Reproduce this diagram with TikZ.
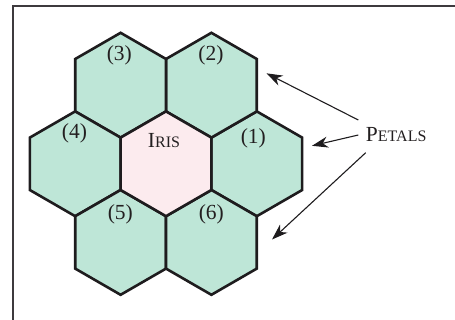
\documentclass[tikz,border=0pt]{standalone}
\usepackage{fontspec}
\setmainfont{Liberation Serif}
\usetikzlibrary{shapes.geometric,arrows.meta}
\definecolor{petal}{RGB}{190,230,215}
\definecolor{irisfill}{RGB}{252,235,238}
\definecolor{ink}{RGB}{30,28,30}
\definecolor{framec}{RGB}{62,58,62}
\definecolor{txt}{RGB}{35,31,32}
\begin{document}
\begin{tikzpicture}[x=1pt,y=-1pt,
  hexbox/.style={regular polygon, regular polygon sides=6, shape border rotate=30,
    minimum size=104.8pt, inner sep=0pt, outer sep=0pt, draw=ink, line width=2.6pt, line join=miter},
  petalhex/.style={hexbox, fill=petal},
  irishex/.style={hexbox, fill=irisfill},
  lbl/.style={text=txt, inner sep=0pt, font=\fontsize{21.5}{25}\selectfont},
  pointer/.style={draw=ink, line width=1.1pt, -{Stealth[length=16pt,width=11pt,inset=5pt]}}]
\useasboundingbox (0,0) rectangle (455,320);
\draw[framec, line width=2pt] (13,320) -- (13,6) -- (455,6);
% hexagons
\node[petalhex] (h1) at (256.8,163.8) {};
\node[petalhex] (h2) at (211.4,85.2) {};
\node[petalhex] (h3) at (120.6,85.2) {};
\node[petalhex] (h4) at (75.2,163.8) {};
\node[petalhex] (h5) at (120.6,242.4) {};
\node[petalhex] (h6) at (211.4,242.4) {};
\node[irishex] (iris) at (166,163.8) {};
% labels
\node[lbl] (l1) at (253.3,138) {(1)};
\node[lbl] (l2) at (211,55) {(2)};
\node[lbl] (l3) at (119.3,55) {(3)};
\node[lbl] (l4) at (74.5,133) {(4)};
\node[lbl] (l5) at (120.3,214) {(5)};
\node[lbl] (l6) at (211.3,214) {(6)};
\node[lbl] (irislbl) at (164,141) {I\fontsize{16}{19}\selectfont RIS};
\node[lbl] (petals) at (396.2,135) {P\fontsize{16}{19}\selectfont ETALS};
% arrows
\coordinate (s1) at (358.3,120);
\coordinate (t1) at (266.5,73.3);
\coordinate (s2) at (358.3,135);
\coordinate (t2) at (312,145.8);
\coordinate (s3) at (365.7,152.7);
\coordinate (t3) at (272,239.5);
\draw[pointer] (s1) -- (t1);
\draw[pointer] (s2) -- (t2);
\draw[pointer] (s3) -- (t3);
\end{tikzpicture}
\end{document}
